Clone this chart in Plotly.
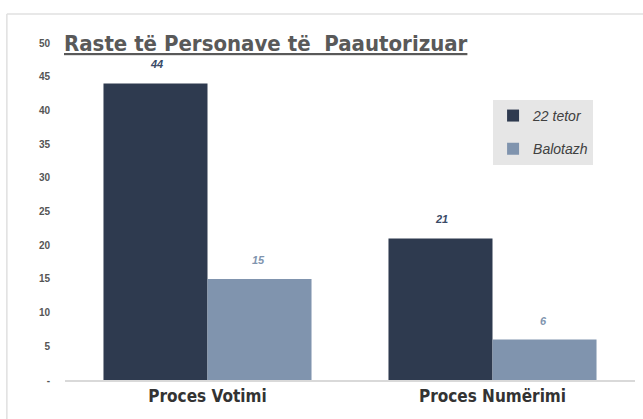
import plotly.graph_objects as go

categories = ["Proces Votimi", "Proces Numërimi"]
series_names = ["22 tetor", "Balotazh"]
values_22_tetor = [44, 21]
values_balotazh = [15, 6]
tick_vals = [0, 5, 10, 15, 20, 25, 30, 35, 40, 45, 50]
tick_text = ["-", "5", "10", "15", "20", "25", "30", "35", "40", "45", "50"]
title_text = "Raste të Personave të  Paautorizuar"

dark = "#2e3a4f"
light = "#8094ae"
cond = "DejaVu Sans Condensed, Liberation Sans Narrow, Arial Narrow, sans-serif"

fig = go.Figure()
for name, vals, col, grp in [(series_names[0], values_22_tetor, dark, "a"),
                             (series_names[1], values_balotazh, light, "b")]:
    fig.add_trace(go.Bar(x=categories, y=vals, name=f"<i>{name}</i>", marker_color=col,
                         marker_line_width=0, legendgroup=grp))

offsets = [-0.18, 0.18]
for si, (vals, col) in enumerate([(values_22_tetor, "#3a4a66"), (values_balotazh, light)]):
    for ci, v in enumerate(vals):
        fig.add_annotation(x=ci + offsets[si], y=v, xref="x", yref="y", text=f"<b><i>{v}</i></b>",
                           showarrow=False, yshift=19, font=dict(size=11, color=col, family="Arial"))

fig.add_annotation(x=-0.006, y=1.0, xref="paper", yref="paper", xanchor="left", yanchor="middle",
                   text=f"<b><u>{title_text}</u></b>", showarrow=False,
                   font=dict(size=22, color="#595959", family=cond))

# border lines (top and left)
fig.add_shape(type="line", xref="paper", yref="paper", x0=-0.102, x1=1.1, y0=1.086, y1=1.086,
              line=dict(color="#e0e0e0", width=1.5))
fig.add_shape(type="line", xref="paper", yref="paper", x0=-0.102, x1=-0.102, y0=-0.2, y1=1.086,
              line=dict(color="#e0e0e0", width=1.5))

fig.update_layout(
    width=643, height=419,
    margin=dict(l=65, r=8, t=43, b=39),
    paper_bgcolor="white", plot_bgcolor="white",
    barmode="group", bargap=0.27, bargroupgap=0,
    showlegend=True,
    legend=dict(x=0.751, y=0.831, xanchor="left", yanchor="top", bgcolor="#e6e6e6",
                font=dict(size=14, color="#404040", family="Arial"),
                traceorder="grouped", tracegroupgap=12, itemwidth=30),
    xaxis=dict(showline=True, linecolor="#d9d9d9", linewidth=1.5, ticks="", automargin=False,
               tickfont=dict(size=17, color="#333333", family=cond, weight="bold")),
    yaxis=dict(range=[0, 50], tickvals=tick_vals, ticktext=tick_text, showgrid=False,
               zeroline=False, showline=False, ticks="", automargin=False, ticklabelstandoff=14,
               tickfont=dict(size=10, color="#555555", family="Arial", weight="bold")),
)

fig.write_html("out.html", config={"displayModeBar": False},
               post_script="document.body.style.margin='0';")
